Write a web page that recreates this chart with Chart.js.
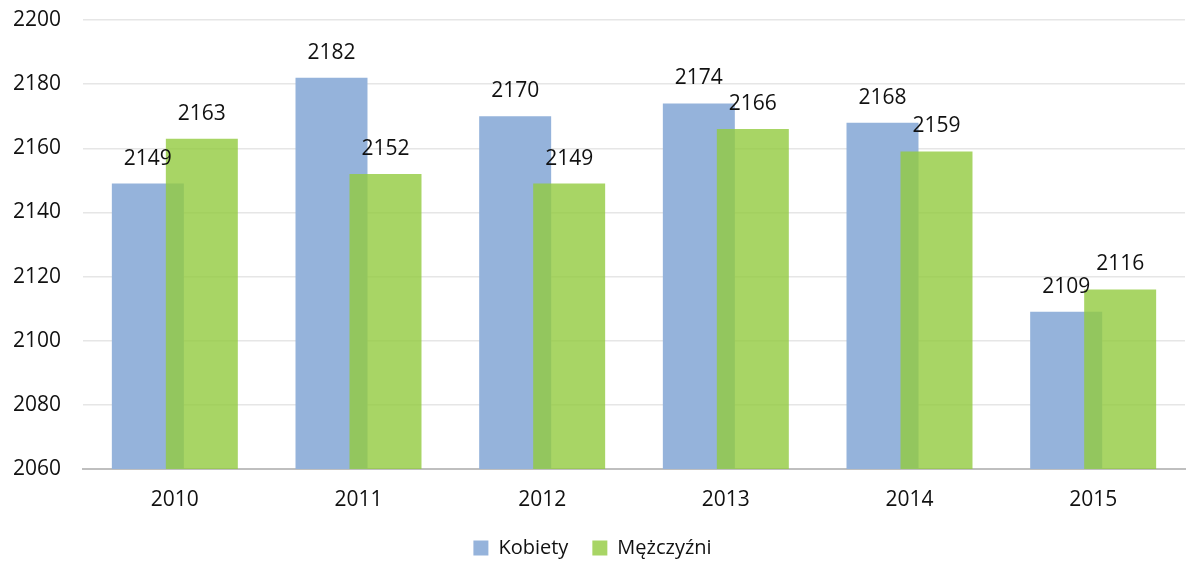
<!DOCTYPE html>
<html>
<head>
<meta charset="utf-8">
<script src="https://cdn.jsdelivr.net/npm/chart.js@4"></script>
<style>
  html, body { margin: 0; padding: 0; background: #fff; }
  #wrap { width: 1186px; height: 568px; }
</style>
</head>
<body>
<div id="wrap"><canvas id="barChart"></canvas></div>
<script>
var years = ["2010", "2011", "2012", "2013", "2014", "2015"];
var kobiety = [2149, 2182, 2170, 2174, 2168, 2109];
var mezczyzni = [2163, 2152, 2149, 2166, 2159, 2116];
var yTicks = [2060, 2080, 2100, 2120, 2140, 2160, 2180, 2200];

Chart.defaults.font.family = "'Open Sans', 'Noto Sans', sans-serif";
Chart.defaults.font.size = 21;
Chart.defaults.color = "#111";

// green bars go on top of the blue ones (Chart.js would draw dataset 0 last)
var greenOnTop = {
    id: "greenOnTop",
    beforeDatasetDraw: function (chart, args) {
        if (args.index === 1) return false;
    },
    afterDatasetsDraw: function (chart) {
        var ctx = chart.ctx, a = chart.chartArea;
        ctx.save();
        ctx.beginPath();
        ctx.rect(a.left, a.top, a.right - a.left, a.bottom - a.top);
        ctx.clip();
        chart.getDatasetMeta(1).controller.draw();
        ctx.restore();
    }
};

// value labels above each bar
var valueLabels = {
    id: "valueLabels",
    afterDatasetsDraw: function (chart) {
        var ctx = chart.ctx;
        ctx.save();
        ctx.font = "21px 'Open Sans', 'Noto Sans', sans-serif";
        ctx.fillStyle = "#111";
        ctx.textAlign = "center";
        ctx.textBaseline = "alphabetic";
        chart.data.datasets.forEach(function (ds, i) {
            chart.getDatasetMeta(i).data.forEach(function (bar, j) {
                ctx.fillText(ds.data[j], bar.x, bar.y - 19);
            });
        });
        ctx.restore();
    }
};

new Chart(document.getElementById("barChart").getContext("2d"), {
    type: "bar",
    data: {
        labels: years,
        datasets: [
            {
                label: "Kobiety",
                data: kobiety,
                backgroundColor: "rgb(149, 179, 219)",
                categoryPercentage: 0.588,
                barPercentage: 1.333
            },
            {
                label: "Mężczyźni",
                data: mezczyzni,
                backgroundColor: "rgba(146, 202, 62, 0.8)",
                categoryPercentage: 0.588,
                barPercentage: 1.333
            }
        ]
    },
    options: {
        responsive: true,
        maintainAspectRatio: false,
        animation: false,
        layout: { padding: { top: 20, right: 1, left: 0, bottom: 0 } },
        scales: {
            x: {
                grid: { display: false, drawTicks: false },
                border: { color: "#bfbfbf", width: 2 },
                ticks: { padding: 18, color: "#111" },
                afterFit: function (scale) { scale.height = 45; }
            },
            y: {
                min: 2060,
                max: 2200,
                afterBuildTicks: function (scale) {
                    scale.ticks = yTicks.map(function (v) { return { value: v }; });
                },
                afterFit: function (scale) {
                    scale.width = 83;
                    scale.paddingTop = 0;
                    scale.paddingBottom = 0;
                },
                grid: { color: "#e6e6e6", lineWidth: 1.5, drawTicks: false },
                border: { display: false },
                ticks: {
                    padding: 22,
                    color: "#111",
                    callback: function (v) { return String(v); }
                }
            }
        },
        plugins: {
            legend: {
                position: "bottom",
                labels: {
                    boxWidth: 15,
                    boxHeight: 15,
                    padding: 24,
                    color: "#111",
                    font: { size: 20 }
                }
            },
            tooltip: { enabled: false }
        }
    },
    plugins: [greenOnTop, valueLabels]
});
</script>
</body>
</html>
